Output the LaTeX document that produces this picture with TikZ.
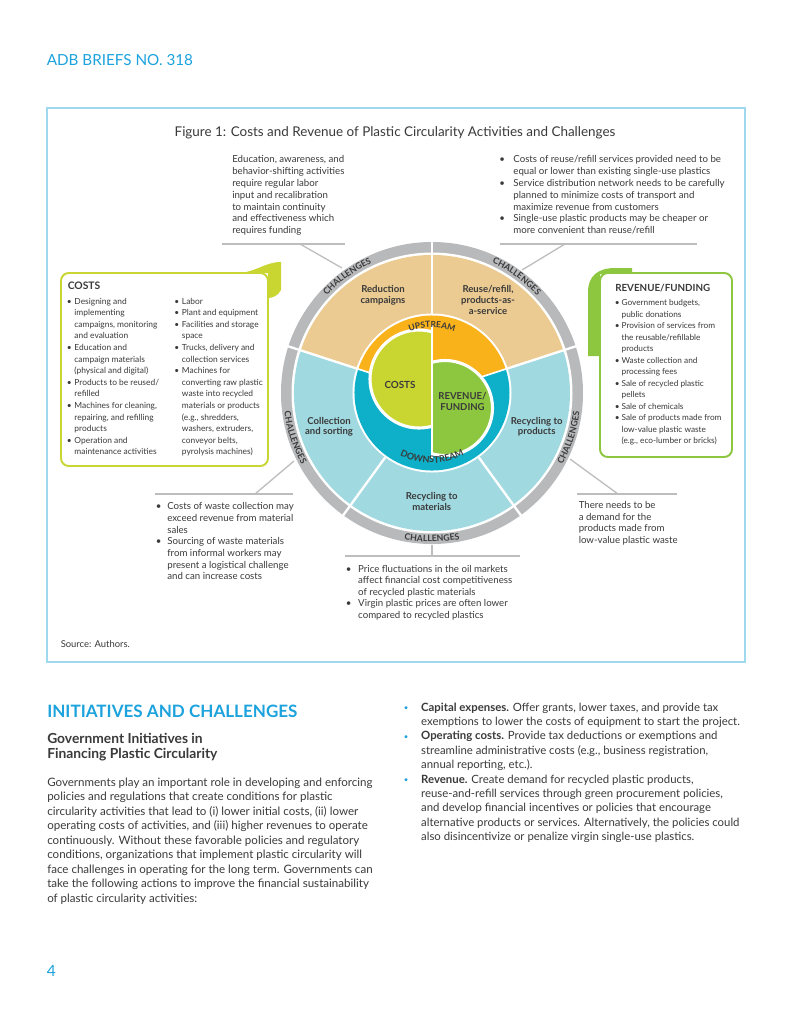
\documentclass[tikz,border=0pt]{standalone}
\usepackage{fontspec}
\setmainfont{Lato}
\newfontfamily\lsfont[LetterSpace=10]{Lato}
\usetikzlibrary{decorations.text}
\definecolor{adbblue}{HTML}{1CA3DD}
\definecolor{framec}{HTML}{9FD9EF}
\definecolor{txt}{HTML}{3A3A3A}
\definecolor{ctan}{HTML}{EBCB92}
\definecolor{clblue}{HTML}{A1D9E0}
\definecolor{cgray}{HTML}{B8B9BB}
\definecolor{corange}{HTML}{FAB21B}
\definecolor{cteal}{HTML}{0DB0C8}
\definecolor{cyg}{HTML}{C9D631}
\definecolor{cgreen}{HTML}{8DC63F}
\definecolor{cline}{HTML}{BDBDBD}
\newcommand\fsz[2]{\fontsize{#1}{#2}\selectfont}
\newcommand\chf{\lsfont\bfseries\fsz{6.8}{7}}
\newcommand\bul{\raisebox{0.6pt}{\fsz{6}{6}\color{adbblue}•}}
\begin{document}
\begin{tikzpicture}[x=0.774pt,y=0.774pt,
  tblock/.style={anchor=north west, inner sep=0pt, text=txt},
  lbl/.style={align=center, inner sep=0pt, text=txt, font=\fsz{7.4}{8.3}\bfseries},
  callout/.style={draw=cline, line width=1pt},
  ringtext/.style={decorate, decoration={text along path, text align=center, text color=txt, text={|\chf|#1}}},
  ringtextb/.style={decorate, decoration={text along path, text align=center, text color=txt, text={|\lsfont\bfseries\fsz{6.6}{7}|#1}}},
  ringtextc/.style={decorate, decoration={text along path, text align=center, text color=txt, text={|\lsfont\bfseries\fsz{7}{7}|#1}}}]
\fill[white] (0,0) rectangle (791,-1024);
\useasboundingbox (0,0) rectangle (791,-1024);

% header
\node[anchor=base west, inner sep=0pt, text=adbblue, font=\fsz{11.8}{13}] (hdr) at (46.5,-65) {ADB BRIEFS NO. 318};
% frame
\draw[draw=framec, line width=1.2pt] (47,-108) rectangle (745,-662);
\node[inner sep=0pt, text=txt, font=\fsz{10.4}{11}] (title) at (395,-133) {Figure 1: Costs and Revenue of Plastic Circularity Activities and Challenges};

% callout texts top
\node[tblock, font=\fsz{7.5}{9.13}] (tl) at (232,-154.3) {\begin{tabular}{@{}l@{}}
Education, awareness, and\\
behavior-shifting activities\\
require regular labor\\
input and recalibration\\
to maintain continuity\\
and effectiveness which\\
requires funding\end{tabular}};
\node[tblock, font=\fsz{7.5}{9.13}] (tr) at (499,-154.3) {\begin{tabular}{@{}l@{\hspace{6.6pt}}l@{}}
•&Costs of reuse/refill services provided need to be\\
&equal or lower than existing single-use plastics\\
•&Service distribution network needs to be carefully\\
&planned to minimize costs of transport and\\
&maximize revenue from customers\\
•&Single-use plastic products may be cheaper or\\
&more convenient than reuse/refill\end{tabular}};

% COSTS box
\fill[cyg] (236,-273) .. controls (256,-273) and (264,-262) .. (281,-262) -- (281,-290) .. controls (278,-296) and (272,-298) .. (268,-298) -- (268,-273) -- cycle;
\draw[draw=cyg, line width=1.5pt, fill=white, rounded corners=6pt] (61,-273) rectangle (268,-466);
\node[anchor=base west, inner sep=0pt, text=txt, font=\fsz{8}{9}\bfseries] (costsT) at (67.5,-289.3) {COSTS};
\node[tblock, font=\fsz{6.5}{8.98}] (costsL) at (66.5,-295.7) {\begin{tabular}{@{}l@{\hspace{2.2pt}}l@{}}
•&Designing and\\
&implementing\\
&campaigns, monitoring\\
&and evaluation\\
•&Education and\\
&campaign materials\\
&(physical and digital)\\
•&Products to be reused/\\
&refilled\\
•&Machines for cleaning,\\
&repairing, and refilling\\
&products\\
•&Operation and\\
&maintenance activities\end{tabular}};
\node[tblock, font=\fsz{6.5}{8.98}] (costsR) at (174,-295.7) {\begin{tabular}{@{}l@{\hspace{2.2pt}}l@{}}
•&Labor\\
•&Plant and equipment\\
•&Facilities and storage\\
&space\\
•&Trucks, delivery and\\
&collection services\\
•&Machines for\\
&converting raw plastic\\
&waste into recycled\\
&materials or products\\
&(e.g., shredders,\\
&washers, extruders,\\
&conveyor belts,\\
&pyrolysis machines)\end{tabular}};

% REVENUE box
\fill[cgreen] (588,-356) -- (588,-292) .. controls (588,-276) and (598,-268) .. (615,-268) -- (632,-268) -- (632,-274) -- (600,-274) -- (600,-356) -- cycle;
\draw[draw=cgreen, line width=1.5pt, fill=white, rounded corners=6pt] (600,-273) rectangle (732,-457);
\node[anchor=base west, inner sep=0pt, text=txt, font=\fsz{7.6}{8}\bfseries] (revT) at (615,-291.7) {REVENUE/FUNDING};
\node[tblock, font=\fsz{6.4}{8.92}] (revL) at (614.5,-297.3) {\begin{tabular}{@{}l@{\hspace{1.6pt}}l@{}}
•&Government budgets,\\
&public donations\\
•&Provision of services from\\
&the reusable/refillable\\
&products\\
•&Waste collection and\\
&processing fees\\
•&Sale of recycled plastic\\
&pellets\\
•&Sale of chemicals\\
•&Sale of products made from\\
&low-value plastic waste\\
&(e.g., eco-lumber or bricks)\end{tabular}};

% wheel
\begin{scope}[shift={(432,-393)}]
\fill[cgray] (0,0) circle[radius=151];
\fill[white] (0,0) circle[radius=140.5];
\fill[ctan] (0,0) -- (18:138) arc[start angle=18, end angle=162, radius=138] -- cycle;
\fill[clblue] (0,0) -- (162:138) arc[start angle=162, end angle=378, radius=138] -- cycle;
\foreach \a in {18,90,162,234,306} \draw[white, line width=1.8pt] (\a:76) -- (\a:153);
\fill[white] (0,0) circle[radius=79.5];
\fill[corange] (0,0) -- (18:77.5) arc[start angle=18, end angle=162, radius=77.5] -- cycle;
\fill[cteal] (0,0) -- (162:77.5) arc[start angle=162, end angle=378, radius=77.5] -- cycle;
\foreach \a in {18,162} \draw[white, line width=1.3pt] (\a:40) -- (\a:80);
\begin{scope}
\clip (-130,-110) rectangle (0,110);
\fill[cyg, draw=white, line width=2.4pt] (-13,14) circle[radius=49];
\end{scope}
\begin{scope}
\clip (0,-110) rectangle (130,110);
\fill[cgreen, draw=white, line width=2.4pt] (13,-15) circle[radius=47.5];
\end{scope}
\draw[white, line width=1.3pt] (0,68) -- (0,-66);
% ring texts
\path[ringtext=CHALLENGES] (158:143.3) arc[start angle=158, end angle=94, radius=143.3];
\path[ringtext=CHALLENGES] (86:143.3) arc[start angle=86, end angle=22, radius=143.3];
\path[ringtext=CHALLENGES] (166:148.8) arc[start angle=166, end angle=230, radius=148.8];
\path[ringtext=CHALLENGES] (238:148.8) arc[start angle=238, end angle=302, radius=148.8];
\path[ringtext=CHALLENGES] (310:148.8) arc[start angle=310, end angle=374, radius=148.8];
\path[ringtextb=UPSTREAM] (135:65.5) arc[start angle=135, end angle=45, radius=65.5];
\path[ringtextc=DOWNSTREAM] (215:70) arc[start angle=215, end angle=325, radius=70];
\end{scope}

% wheel labels
\node[lbl] (red) at (383,-295) {Reduction\\campaigns};
\node[lbl] (reuse) at (488,-300) {Reuse/refill,\\products-as-\\a-service};
\node[lbl, font=\fsz{7.6}{8.5}\bfseries] (costsC) at (400,-385) {COSTS};
\node[lbl, font=\fsz{7.4}{8.5}\bfseries] (revC) at (462.5,-401.7) {REVENUE/\\FUNDING};
\node[lbl] (coll) at (329,-426.7) {Collection\\and sorting};
\node[lbl] (recp) at (536.7,-426.7) {Recycling to\\products};
\node[lbl] (recm) at (431.7,-501.7) {Recycling to\\materials};

% callout lines
\coordinate (a1) at (222,-244); \coordinate (a2) at (345,-244); \coordinate (a3) at (300,-244); \coordinate (a4) at (342,-268);
\draw[callout] (a1) -- (a2); \draw[callout] (a3) -- (a4);
\coordinate (b1) at (500,-244); \coordinate (b2) at (697,-244); \coordinate (b3) at (565,-244); \coordinate (b4) at (522,-270);
\draw[callout] (b1) -- (b2); \draw[callout] (b3) -- (b4);
\coordinate (c1) at (155,-494); \coordinate (c2) at (293,-494); \coordinate (c3) at (255,-494); \coordinate (c4) at (294,-461);
\draw[callout] (c1) -- (c2); \draw[callout] (c3) -- (c4);
\coordinate (d1) at (577,-494); \coordinate (d2) at (677,-494); \coordinate (d3) at (618,-494); \coordinate (d4) at (570,-459);
\draw[callout] (d1) -- (d2); \draw[callout] (d3) -- (d4);
\coordinate (e1) at (345,-556); \coordinate (e2) at (520,-556); \coordinate (e3) at (432,-545); \coordinate (e4) at (432,-556);
\draw[callout] (e1) -- (e2); \draw[callout] (e3) -- (e4);

% bottom callout texts
\node[tblock, font=\fsz{7.5}{9.03}] (bl) at (155.5,-501.5) {\begin{tabular}{@{}l@{\hspace{4.6pt}}l@{}}
•&Costs of waste collection may\\
&exceed revenue from material\\
&sales\\
•&Sourcing of waste materials\\
&from informal workers may\\
&present a logistical challenge\\
&and can increase costs\end{tabular}};
\node[tblock, font=\fsz{7.5}{8.9}] (bc) at (345.5,-563.7) {\begin{tabular}{@{}l@{\hspace{5.3pt}}l@{}}
•&Price fluctuations in the oil markets\\
&affect financial cost competitiveness\\
&of recycled plastic materials\\
•&Virgin plastic prices are often lower\\
&compared to recycled plastics\end{tabular}};
\node[tblock, font=\fsz{7.5}{9.13}] (br) at (578.5,-499.8) {\begin{tabular}{@{}l@{}}
There needs to be\\
a demand for the\\
products made from\\
low-value plastic waste\end{tabular}};
\node[anchor=west, inner sep=0pt, text=txt, font=\fsz{7.3}{8}] (src) at (60.5,-644) {Source: Authors.};

% lower page
\node[anchor=base west, inner sep=0pt, text=adbblue, font=\fsz{13.2}{14}\bfseries] (sec) at (47,-717) {INITIATIVES AND CHALLENGES};
\node[tblock, font=\fsz{10.7}{10.84}\bfseries] (sub) at (47,-733.3) {\begin{tabular}{@{}l@{}}
Government Initiatives in\\
Financing Plastic Circularity\end{tabular}};
\node[tblock, font=\fsz{8.95}{11.22}] (body) at (47,-775.8) {\begin{tabular}{@{}l@{}}
Governments play an important role in developing and enforcing\\
policies and regulations that create conditions for plastic\\
circularity activities that lead to (i) lower initial costs, (ii) lower\\
operating costs of activities, and (iii) higher revenues to operate\\
continuously. Without these favorable policies and regulatory\\
conditions, organizations that implement plastic circularity will\\
face challenges in operating for the long term. Governments can\\
take the following actions to improve the financial sustainability\\
of plastic circularity activities:\end{tabular}};
\node[tblock, font=\fsz{8.8}{11.15}] (rbody) at (403.5,-700.8) {\begin{tabular}{@{}l@{\hspace{10pt}}l@{}}
\bul&\textbf{Capital expenses.} Offer grants, lower taxes, and provide tax\\
&exemptions to lower the costs of equipment to start the project.\\
\bul&\textbf{Operating costs.} Provide tax deductions or exemptions and\\
&streamline administrative costs (e.g., business registration,\\
&annual reporting, etc.).\\
\bul&\textbf{Revenue.} Create demand for recycled plastic products,\\
&reuse-and-refill services through green procurement policies,\\
&and develop financial incentives or policies that encourage\\
&alternative products or services. Alternatively, the policies could\\
&also disincentivize or penalize virgin single-use plastics.\end{tabular}};
\node[anchor=base west, inner sep=0pt, text=adbblue, font=\fsz{12}{13}] (pg) at (46.5,-976) {4};
\end{tikzpicture}
\end{document}
